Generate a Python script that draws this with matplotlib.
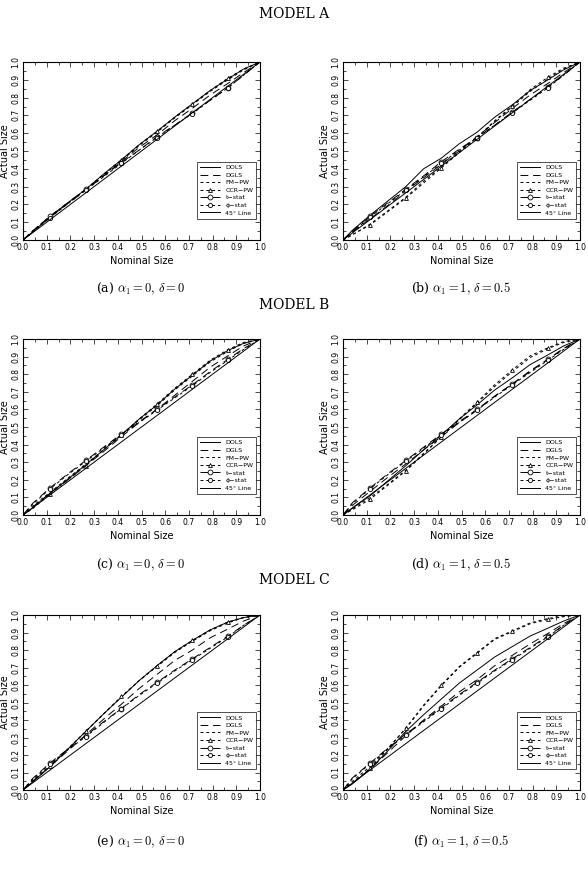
import numpy as np
import matplotlib
matplotlib.use('Agg')
import matplotlib.pyplot as plt
from matplotlib.ticker import MultipleLocator, FormatStrFormatter

plt.rcParams['mathtext.fontset'] = 'cm'

# nominal size grid (markers sit on every second point)
nominal = [0, 0.04, 0.115, 0.19, 0.265, 0.34, 0.415, 0.49, 0.565, 0.64, 0.715, 0.79, 0.865, 0.93, 1.0]

names = ['DOLS', 'DGLS', 'FM\u2212PW', 'CCR\u2212PW', 't\u2212stat', '\u03d5\u2212stat']

# panel (a) model A, alpha=0, delta=0
a_dols = [0, 0.045, 0.13, 0.21, 0.285, 0.37, 0.45, 0.535, 0.61, 0.69, 0.765, 0.84, 0.905, 0.96, 1.0]
a_dgls = [0, 0.05, 0.13, 0.205, 0.28, 0.36, 0.44, 0.52, 0.59, 0.67, 0.74, 0.815, 0.88, 0.94, 1.0]
a_fm = [0, 0.05, 0.135, 0.21, 0.285, 0.365, 0.445, 0.53, 0.605, 0.685, 0.76, 0.835, 0.9, 0.955, 1.0]
a_ccr = [0, 0.045, 0.13, 0.205, 0.285, 0.37, 0.45, 0.535, 0.61, 0.69, 0.765, 0.84, 0.91, 0.96, 1.0]
a_t = [0, 0.05, 0.135, 0.21, 0.285, 0.36, 0.435, 0.505, 0.58, 0.645, 0.715, 0.785, 0.855, 0.925, 1.0]
a_phi = [0, 0.045, 0.125, 0.205, 0.28, 0.355, 0.43, 0.505, 0.575, 0.645, 0.71, 0.785, 0.855, 0.925, 1.0]

# panel (b) model A, alpha=1, delta=0.5
b_dols = [0, 0.055, 0.14, 0.22, 0.30, 0.40, 0.46, 0.54, 0.605, 0.69, 0.76, 0.84, 0.90, 0.955, 1.0]
b_dgls = [0, 0.045, 0.12, 0.195, 0.275, 0.35, 0.425, 0.50, 0.58, 0.66, 0.74, 0.815, 0.88, 0.94, 1.0]
b_fm = [0, 0.03, 0.09, 0.165, 0.24, 0.33, 0.41, 0.495, 0.575, 0.665, 0.75, 0.835, 0.905, 0.96, 1.0]
b_ccr = [0, 0.03, 0.085, 0.16, 0.235, 0.32, 0.405, 0.49, 0.575, 0.67, 0.755, 0.845, 0.915, 0.965, 1.0]
b_t = [0, 0.05, 0.135, 0.21, 0.285, 0.36, 0.44, 0.51, 0.575, 0.645, 0.72, 0.79, 0.86, 0.925, 1.0]
b_phi = [0, 0.045, 0.13, 0.205, 0.28, 0.355, 0.43, 0.505, 0.575, 0.645, 0.715, 0.785, 0.855, 0.925, 1.0]

# panel (c) model B, alpha=0, delta=0
c_dols = [0, 0.04, 0.125, 0.205, 0.285, 0.37, 0.455, 0.545, 0.625, 0.715, 0.795, 0.875, 0.935, 0.975, 1.0]
c_dgls = [0, 0.045, 0.125, 0.2, 0.28, 0.36, 0.445, 0.525, 0.60, 0.68, 0.76, 0.84, 0.905, 0.96, 1.0]
c_fm = [0, 0.05, 0.13, 0.21, 0.29, 0.37, 0.455, 0.54, 0.62, 0.71, 0.79, 0.87, 0.93, 0.975, 1.0]
c_ccr = [0, 0.035, 0.12, 0.2, 0.28, 0.37, 0.455, 0.545, 0.63, 0.72, 0.80, 0.88, 0.94, 0.98, 1.0]
c_t = [0, 0.065, 0.155, 0.235, 0.31, 0.385, 0.46, 0.53, 0.60, 0.67, 0.74, 0.815, 0.885, 0.945, 1.0]
c_phi = [0, 0.06, 0.15, 0.23, 0.305, 0.38, 0.455, 0.525, 0.595, 0.665, 0.735, 0.81, 0.88, 0.94, 1.0]

# panel (d) model B, alpha=1, delta=0.5
d_dols = [0, 0.04, 0.11, 0.195, 0.28, 0.37, 0.455, 0.545, 0.625, 0.71, 0.78, 0.855, 0.91, 0.96, 1.0]
d_dgls = [0, 0.055, 0.135, 0.215, 0.29, 0.37, 0.445, 0.525, 0.595, 0.675, 0.745, 0.82, 0.885, 0.945, 1.0]
d_fm = [0, 0.035, 0.1, 0.175, 0.255, 0.35, 0.445, 0.54, 0.635, 0.73, 0.815, 0.895, 0.945, 0.98, 1.0]
d_ccr = [0, 0.03, 0.09, 0.17, 0.25, 0.345, 0.445, 0.545, 0.64, 0.74, 0.825, 0.905, 0.95, 0.985, 1.0]
d_t = [0, 0.07, 0.155, 0.235, 0.31, 0.385, 0.46, 0.53, 0.60, 0.675, 0.745, 0.815, 0.885, 0.945, 1.0]
d_phi = [0, 0.065, 0.15, 0.23, 0.305, 0.38, 0.455, 0.525, 0.595, 0.67, 0.74, 0.81, 0.88, 0.94, 1.0]

# panel (e) model C, alpha=0, delta=0
e_dols = [0, 0.045, 0.135, 0.235, 0.335, 0.435, 0.53, 0.625, 0.71, 0.79, 0.855, 0.915, 0.96, 0.985, 1.0]
e_dgls = [0, 0.05, 0.135, 0.225, 0.315, 0.405, 0.49, 0.58, 0.66, 0.74, 0.80, 0.87, 0.92, 0.965, 1.0]
e_fm = [0, 0.055, 0.14, 0.235, 0.335, 0.435, 0.53, 0.625, 0.705, 0.785, 0.85, 0.91, 0.955, 0.985, 1.0]
e_ccr = [0, 0.045, 0.135, 0.235, 0.335, 0.435, 0.535, 0.625, 0.71, 0.79, 0.855, 0.915, 0.96, 0.985, 1.0]
e_t = [0, 0.065, 0.155, 0.235, 0.31, 0.39, 0.465, 0.545, 0.615, 0.685, 0.75, 0.815, 0.88, 0.94, 1.0]
e_phi = [0, 0.06, 0.15, 0.23, 0.305, 0.385, 0.465, 0.54, 0.61, 0.68, 0.745, 0.81, 0.875, 0.94, 1.0]

# panel (f) model C, alpha=1, delta=0.5
f_dols = [0, 0.035, 0.12, 0.225, 0.335, 0.43, 0.52, 0.61, 0.685, 0.76, 0.82, 0.88, 0.925, 0.965, 1.0]
f_dgls = [0, 0.04, 0.12, 0.215, 0.31, 0.40, 0.48, 0.56, 0.63, 0.71, 0.77, 0.835, 0.895, 0.95, 1.0]
f_fm = [0, 0.05, 0.135, 0.24, 0.35, 0.48, 0.595, 0.70, 0.78, 0.86, 0.905, 0.95, 0.975, 0.99, 1.0]
f_ccr = [0, 0.04, 0.125, 0.235, 0.355, 0.485, 0.60, 0.705, 0.785, 0.865, 0.91, 0.955, 0.98, 0.995, 1.0]
f_t = [0, 0.07, 0.155, 0.24, 0.32, 0.395, 0.47, 0.545, 0.615, 0.685, 0.75, 0.815, 0.88, 0.94, 1.0]
f_phi = [0, 0.065, 0.15, 0.235, 0.315, 0.39, 0.465, 0.54, 0.61, 0.68, 0.745, 0.81, 0.875, 0.94, 1.0]

panels = [
    ([a_dols, a_dgls, a_fm, a_ccr, a_t, a_phi], r'(a) $\alpha_1 = 0,\, \delta = 0$'),
    ([b_dols, b_dgls, b_fm, b_ccr, b_t, b_phi], r'(b) $\alpha_1 = 1,\, \delta = 0.5$'),
    ([c_dols, c_dgls, c_fm, c_ccr, c_t, c_phi], r'(c) $\alpha_1 = 0,\, \delta = 0$'),
    ([d_dols, d_dgls, d_fm, d_ccr, d_t, d_phi], r'(d) $\alpha_1 = 1,\, \delta = 0.5$'),
    ([e_dols, e_dgls, e_fm, e_ccr, e_t, e_phi], r'(e) $\alpha_1 = 0,\, \delta = 0$'),
    ([f_dols, f_dgls, f_fm, f_ccr, f_t, f_phi], r'(f) $\alpha_1 = 1,\, \delta = 0.5$'),
]
model_titles = ['MODEL A', 'MODEL B', 'MODEL C']

# line styles for DOLS, DGLS, FM-PW, CCR-PW, t-stat, phi-stat
styles = [
    dict(ls='-'),
    dict(ls=(0, (8, 5))),
    dict(ls=(0, (3, 3))),
    dict(ls=(0, (3, 3)), marker='^', ms=2.8, mfc='white'),
    dict(ls=(0, (8, 5)), marker='o', ms=3.5, mfc='white'),
    dict(ls=(0, (3, 3)), marker='o', ms=3, mfc='white'),
]

fig = plt.figure(figsize=(5.88, 8.69), dpi=100)

W, H = 588.0, 869.0
lefts = [23, 343]
rows = [(62, 240), (339, 515), (615, 790)]
caption_y = [289, 565, 842]
title_y = [14, 305, 580]

for k, (series, caption) in enumerate(panels):
    r, c = divmod(k, 2)
    top, bot = rows[r]
    ax = fig.add_axes([lefts[c] / W, 1 - bot / H, 237 / W, (bot - top) / H])
    for ys, name, st in zip(series, names, styles):
        ax.plot(nominal, ys, color='black', lw=0.7, label=name, markevery=[2, 4, 6, 8, 10, 12], mew=0.6, **st)
    ax.plot([0, 1], [0, 1], color='black', lw=0.7, label='45\u00b0 Line')
    ax.set_xlim(0, 1)
    ax.set_ylim(0, 1)
    ax.xaxis.set_major_locator(MultipleLocator(0.1))
    ax.yaxis.set_major_locator(MultipleLocator(0.1))
    ax.xaxis.set_minor_locator(MultipleLocator(0.05))
    ax.yaxis.set_minor_locator(MultipleLocator(0.05))
    ax.xaxis.set_major_formatter(FormatStrFormatter('%.1f'))
    ax.yaxis.set_major_formatter(FormatStrFormatter('%.1f'))
    ax.tick_params(which='both', direction='in', top=True, right=True, labelsize=5.5, width=0.5, pad=2)
    ax.tick_params(which='major', length=3.5)
    ax.tick_params(which='minor', length=2)
    plt.setp(ax.get_yticklabels(), rotation=90, va='center')
    ax.set_xlabel('Nominal Size', fontsize=7, labelpad=3)
    ax.set_ylabel('Actual Size', fontsize=7, labelpad=1)
    for sp in ax.spines.values():
        sp.set_linewidth(0.8)
    leg = ax.legend(loc='lower right', bbox_to_anchor=(0.985, 0.12), fontsize=4.5, frameon=True,
                    fancybox=False, edgecolor='black', handlelength=3.2, labelspacing=0.35,
                    borderpad=0.5, handletextpad=0.8, borderaxespad=0)
    leg.get_frame().set_linewidth(0.6)
    fig.text((lefts[c] + 118) / W, 1 - caption_y[r] / H, caption, ha='center', va='center',
             fontsize=9, family='DejaVu Serif')

for r in range(3):
    fig.text(0.5, 1 - title_y[r] / H, model_titles[r], ha='center', va='center', fontsize=10,
             family='DejaVu Serif')

fig.savefig('out.png', dpi=100)
